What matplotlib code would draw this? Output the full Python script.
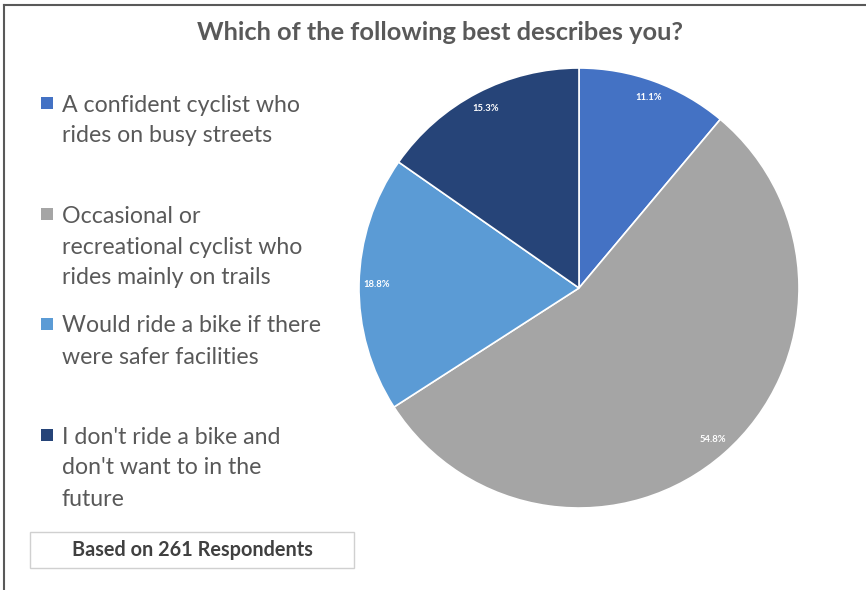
import matplotlib
matplotlib.use("Agg")
import matplotlib.pyplot as plt
from matplotlib.lines import Line2D
from matplotlib.patches import Rectangle

# Survey answers, clockwise from 12 o'clock
categories = [
    "A confident cyclist who\nrides on busy streets",
    "Occasional or\nrecreational cyclist who\nrides mainly on trails",
    "Would ride a bike if there\nwere safer facilities",
    "I don't ride a bike and\ndon't want to in the\nfuture",
]
shares = [11.1, 54.8, 18.8, 15.3]
colors = ["#4472C4", "#A5A5A5", "#5B9BD5", "#264478"]

title = "Which of the following best describes you?"
note = "Based on 261 Respondents"

W, H = 866, 590
plt.rcParams["font.family"] = ["Lato", "DejaVu Sans"]

fig = plt.figure(figsize=(W / 100, H / 100), dpi=100)


def fx(px):
    return px / W


def fy(py):
    return 1 - py / H


# frame lines on top and left
fig.add_artist(Line2D([fx(4), 1], [fy(5), fy(5)], color="#595959", lw=1.5))
fig.add_artist(Line2D([fx(4), fx(4)], [fy(5), 0], color="#595959", lw=1.5))

fig.text(fx(440), fy(32), title, ha="center", va="center",
         fontsize=18.3, fontweight="bold", color="#595959")

# pie
cx, cy, r = 579, 288, 220
ax = fig.add_axes([fx(cx - r), fy(cy + r), (2 * r) / W, (2 * r) / H])
wedges, texts = ax.pie(
    shares, colors=colors, startangle=90, counterclock=False,
    labels=[f"{v:.1f}%" for v in shares], labeldistance=0.92,
    wedgeprops=dict(edgecolor="white", linewidth=1.2),
    textprops=dict(color="white", fontsize=6.8, fontweight="bold"),
)
for t in texts:
    t.set_ha("center")
    t.set_va("center")
ax.set_xlim(-1, 1)
ax.set_ylim(-1, 1)
ax.set_aspect("equal")
ax.axis("off")

# legend on the left, one text line at a time
legend_y = [103, 214, 324, 435]
line_step = 31
for label, col, y in zip(categories, colors, legend_y):
    fig.add_artist(Rectangle((fx(41), fy(y + 6)), 12 / W, 12 / H,
                             facecolor=col, edgecolor="none",
                             transform=fig.transFigure))
    for i, part in enumerate(label.split("\n")):
        fig.text(fx(62), fy(y + i * line_step), part, ha="left",
                 va="center_baseline", fontsize=16.7, color="#595959")

# respondent note box
fig.add_artist(Rectangle((fx(30), fy(568)), 324 / W, 36 / H,
                         facecolor="white", edgecolor="#D0D0D0", lw=1,
                         transform=fig.transFigure))
fig.text(fx(192), fy(550), note, ha="center", va="center", fontsize=14.3,
         fontweight="bold", color="#404040")

fig.savefig("out.png", dpi=100)
